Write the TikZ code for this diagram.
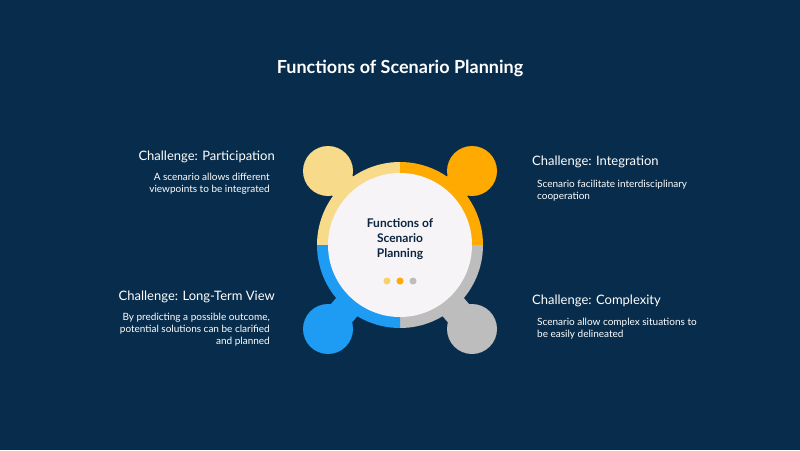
\documentclass[tikz,border=0pt]{standalone}
\usepackage{fontspec}
\setmainfont{Lato}
\definecolor{bg}{HTML}{082D4C}
\definecolor{cy}{HTML}{F7DA8A}
\definecolor{co}{HTML}{FFAA00}
\definecolor{cb}{HTML}{1E9BF2}
\definecolor{cg}{HTML}{BDBDBD}
\definecolor{cw}{HTML}{F6F4F6}
\definecolor{navy}{HTML}{0B2540}
\begin{document}
\begin{tikzpicture}[x=1pt,y=-1pt,
  head/.style={text=white,font=\fontsize{13}{14}\selectfont,inner sep=0pt},
  body/.style={text=white,font=\fontsize{10}{12}\selectfont,inner sep=0pt}]
\fill[bg] (0,0) rectangle (800,450);
\useasboundingbox (0,0) rectangle (800,450);
\coordinate (c) at (400,245);
\node[text=white,font=\bfseries\fontsize{18}{20}\selectfont] (title) at (400,68) {Functions of Scenario Planning};
% petals
\foreach \col/\px/\py/\a in {cy/328/171/180, co/472/171/270, cg/472/329/0, cb/328/329/90}{
  \node[circle,fill=\col,minimum size=50pt,inner sep=0pt] (p\col) at (\px,\py) {};
  \draw[\col,line width=28pt] (c) -- (p\col.center);
  \fill[\col] (c) -- ++(\a:83) arc[start angle=\a,end angle=\a+90,radius=83] -- cycle;
}
\node[circle,fill=cw,minimum size=144pt,inner sep=0pt] (w) at (c) {};
\node[text=navy,font=\bfseries\fontsize{12}{15}\selectfont,align=center] (ct) at (400,239) {Functions of\\Scenario\\Planning};
\fill[cy!80!co] (387,281) circle (3.5);
\fill[co] (400,281) circle (3.5);
\fill[cg] (413,281) circle (3.5);
% texts
\node[head,anchor=east] (h1) at (275,157) {Challenge: Participation};
\node[body,anchor=north east,align=right] (b1) at (270,173) {A scenario allows different\\viewpoints to be integrated};
\node[head,anchor=west] (h2) at (532,162) {Challenge: Integration};
\node[body,anchor=north west,align=left] (b2) at (537,180) {Scenario facilitate interdisciplinary\\cooperation};
\node[head,anchor=east] (h3) at (275,297) {Challenge: Long-Term View};
\node[body,anchor=north east,align=right] (b3) at (270,313) {By predicting a possible outcome,\\potential solutions can be clarified\\and planned};
\node[head,anchor=west] (h4) at (532,301) {Challenge: Complexity};
\node[body,anchor=north west,align=left] (b4) at (537,318) {Scenario allow complex situations to\\be easily delineated};
\end{tikzpicture}
\end{document}
